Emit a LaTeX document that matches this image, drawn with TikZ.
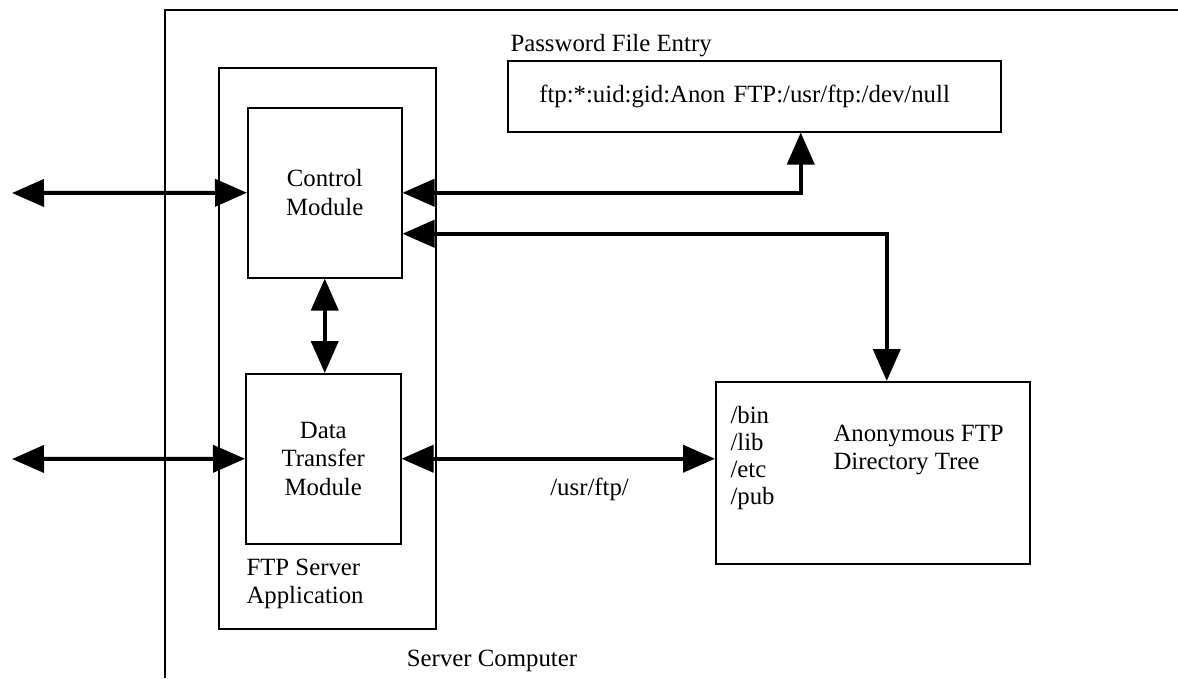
\documentclass[tikz,border=0pt]{standalone}
\usepackage{fontspec}
\setmainfont{Liberation Serif}
\usetikzlibrary{arrows.meta, positioning}

\begin{document}
\begin{tikzpicture}[x=1pt, y=-1pt, font=\fontsize{24.8}{28.5}\selectfont,
    box/.style={draw, line width=1.5pt, rectangle, anchor=north west, inner sep=0pt},
    link/.style={{Triangle[length=32pt,width=27pt]}-{Triangle[length=32pt,width=27pt]}, line width=4pt}]
    \useasboundingbox (0,0) rectangle (1178,678);

    % Server Computer
    \draw[line width=1.5pt] (165,678) -- (165,10) -- (1178,10);
    \node (srv) at (492,661) {Server Computer};

    % FTP Server Application
    \node[box, minimum width=217pt, minimum height=561pt] (app) at (218,67) {};
    \node[anchor=west, align=left] (applbl) at (243,584) {FTP Server\\Application};
    \node[box, minimum width=154pt, minimum height=170pt, align=center] (ctrl) at (247,107) {Control\\Module};
    \node[box, minimum width=155pt, minimum height=170pt, align=center] (data) at (245,373) {Data\\Transfer\\Module};

    % Password file
    \node[anchor=west] (pwdlbl) at (507,46) {Password File Entry};
    \node[box, minimum width=493pt, minimum height=71pt, text width=430pt, inner xsep=31.5pt, align=left] (pwd) at (507,60) {ftp:*:uid:gid:Anon FTP:/usr/ftp:/dev/null};

    % Directory tree
    \node[box, minimum width=314pt, minimum height=182pt] (dir) at (715,381) {};
    \node[anchor=west, align=left, font=\fontsize{24.8}{27}\selectfont] (dirlist) at (727,458) {/bin\\/lib\\/etc\\/pub};
    \node[anchor=west, align=left] (dirlbl) at (830,450) {Anonymous FTP\\Directory Tree};

    % connections
    \coordinate (extA) at (12,193);
    \coordinate (extB) at (12,459);
    \draw[link] (extA) -- (ctrl.west);
    \draw[link] (extB) -- (data.west);
    \draw[link] (ctrl.south) -- (ctrl.south |- data.north);
    \draw[link] (ctrl.east) -| ([xshift=46.5pt]pwd.south);
    \draw[link] ([yshift=-41pt]ctrl.east) -| ([xshift=14pt]dir.north);
    \draw[link] (data.east) -- (data.east -| dir.west) node[pos=0.6, below=14pt] (usr) {/usr/ftp/};
\end{tikzpicture}
\end{document}
